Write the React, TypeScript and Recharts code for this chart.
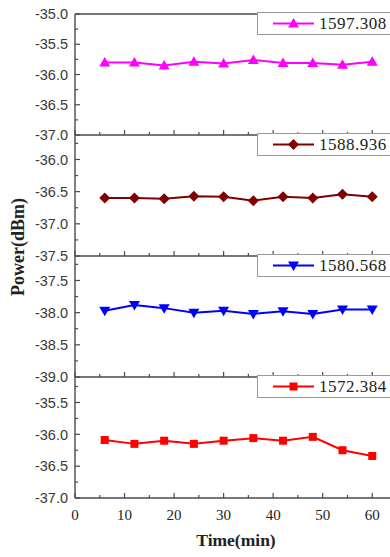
import { LineChart, Line, XAxis, YAxis, Legend, ReferenceLine } from 'recharts';

// sampling times (min)
const times = [6, 12, 18, 24, 30, 36, 42, 48, 54, 60];

// power readings (dBm) per wavelength
const p1597 = [-35.8, -35.8, -35.85, -35.79, -35.82, -35.76, -35.81, -35.81, -35.84, -35.79];
const p1588 = [-36.6, -36.6, -36.61, -36.57, -36.58, -36.64, -36.58, -36.6, -36.54, -36.58];
const p1580 = [-37.97, -37.88, -37.93, -38.0, -37.97, -38.02, -37.98, -38.02, -37.95, -37.95];
const p1572 = [-36.09, -36.15, -36.1, -36.15, -36.1, -36.06, -36.1, -36.04, -36.25, -36.34];

const timeMajor = [0, 10, 20, 30, 40, 50, 60];
const timeMinor = [5, 15, 25, 35, 45, 55];

const yMajor1 = [-35.0, -35.5, -36.0, -36.5, -37.0];
const yMinor1 = [-35.25, -35.75, -36.25, -36.75];
const yMajor2 = [-36.0, -36.5, -37.0, -37.5];
const yMinor2 = [-35.75, -36.25, -36.75, -37.25];
const yMajor3 = [-37.5, -38.0, -38.5, -39.0];
const yMinor3 = [-37.25, -37.75, -38.25, -38.75];
const yMajor4 = [-35.5, -36.0, -36.5, -37.0];
const yMinor4 = [-35.25, -35.75, -36.25, -36.75];

const AXIS = '#4a4a4a';
const PLOT_H = 121;

const panels = [
  { name: '1597.308', values: p1597, color: '#ff00ff', shape: 'up', domain: [-37, -35], major: yMajor1, minor: yMinor1, top: 14 },
  { name: '1588.936', values: p1588, color: '#800000', shape: 'diamond', domain: [-37.5, -35.62], major: yMajor2, minor: yMinor2, top: 135 },
  { name: '1580.568', values: p1580, color: '#0000ff', shape: 'down', domain: [-39, -37.12], major: yMajor3, minor: yMinor3, top: 256 },
  { name: '1572.384', values: p1572, color: '#ff0000', shape: 'square', domain: [-37, -35.1], major: yMajor4, minor: yMinor4, top: 377 },
];

function Marker({ cx, cy, shape, color }: any) {
  if (cx == null || cy == null) return null;
  if (shape === 'up')
    return <polygon points={`${cx},${cy - 5.5} ${cx - 5.5},${cy + 4} ${cx + 5.5},${cy + 4}`} fill={color} />;
  if (shape === 'down')
    return <polygon points={`${cx},${cy + 5.5} ${cx - 5.5},${cy - 4} ${cx + 5.5},${cy - 4}`} fill={color} />;
  if (shape === 'diamond')
    return <polygon points={`${cx},${cy - 5.5} ${cx + 5.5},${cy} ${cx},${cy + 5.5} ${cx - 5.5},${cy}`} fill={color} />;
  return <rect x={cx - 4} y={cy - 4} width={8} height={8} fill={color} />;
}

const XTick = ({ x, y, payload, showLabel }: any) => {
  const major = timeMajor.includes(payload.value);
  return (
    <g>
      <line x1={x} x2={x} y1={y} y2={y - (major ? 5 : 3)} stroke={AXIS} strokeWidth={1.2} />
      {showLabel && major && (
        <text x={x} y={y + 22} textAnchor="middle" fontFamily="'Liberation Serif', serif" fontSize={15} fill="#222">
          {payload.value}
        </text>
      )}
    </g>
  );
};

const YTick = ({ x, y, payload, major }: any) => {
  const isMajor = major.includes(payload.value);
  return (
    <g>
      <line x1={x} x2={x + (isMajor ? 5 : 3)} y1={y} y2={y} stroke={AXIS} strokeWidth={1.2} />
      {isMajor && (
        <text x={x - 7} y={y} dy="0.36em" textAnchor="end" fontFamily="'Liberation Sans', Arial, sans-serif" fontSize={14.5} fill="#3a3a3a">
          {payload.value.toFixed(1)}
        </text>
      )}
    </g>
  );
};

const LegendBox = ({ payload, shape }: any) => {
  const item = payload && payload[0];
  if (!item) return null;
  return (
    <div style={{ width: 150, height: 21, border: '1px solid #9a9a9a', background: '#fff', display: 'flex', alignItems: 'center', boxSizing: 'content-box' }}>
      <svg width={60} height={21} style={{ flex: 'none' }}>
        <line x1={15} x2={56} y1={10.5} y2={10.5} stroke={item.color} strokeWidth={2} />
        <Marker cx={35.5} cy={10.5} shape={shape} color={item.color} />
      </svg>
      <span style={{ fontFamily: "'Liberation Serif', serif", fontSize: 17, letterSpacing: 0.5, color: '#222', marginLeft: 1 }}>
        {item.value}
      </span>
    </div>
  );
};

export default function App() {
  return (
    <div style={{ position: 'absolute', left: 0, top: 0, width: 390, height: 557, overflow: 'hidden', background: '#fff' }}>
      {panels.map((p, idx) => {
        const last = idx === panels.length - 1;
        const data = times.map((t, i) => ({ t, v: p.values[i] }));
        const chartH = 10 + PLOT_H + (last ? 60 : 10);
        return (
          <div key={p.name} style={{ position: 'absolute', left: 0, top: p.top - 10 }}>
            <LineChart width={397} height={chartH} data={data} margin={{ top: 10, right: 0, bottom: last ? 0 : 9, left: 0 }}>
              <XAxis
                dataKey="t"
                type="number"
                domain={[0, 65]}
                allowDataOverflow
                ticks={[...timeMajor, ...timeMinor]}
                interval={0}
                height={last ? 60 : 1}
                tickSize={0}
                tickMargin={0}
                tickLine={false}
                axisLine={{ stroke: AXIS, strokeWidth: 1.4 }}
                tick={(props: any) => <XTick {...props} showLabel={last} />}
                label={
                  last
                    ? {
                        value: 'Time(min)',
                        position: 'insideBottom',
                        offset: 12,
                        style: { fontFamily: "'Liberation Serif', serif", fontWeight: 'bold', fontSize: 17.5, fill: '#222' },
                      }
                    : undefined
                }
              />
              <YAxis
                type="number"
                domain={p.domain}
                allowDataOverflow
                ticks={[...p.major, ...p.minor]}
                interval={0}
                width={75}
                tickSize={0}
                tickMargin={0}
                tickLine={false}
                axisLine={{ stroke: AXIS, strokeWidth: 1.4 }}
                tick={(props: any) => <YTick {...props} major={p.major} />}
              />
              {idx === 0 && <ReferenceLine y={-35} stroke={AXIS} strokeWidth={1.4} />}
              <Legend
                layout="horizontal"
                verticalAlign="middle"
                align="center"
                wrapperStyle={{ top: 8, left: 257, width: 150, height: 23 }}
                content={(props: any) => <LegendBox {...props} shape={p.shape} />}
              />
              <Line
                type="linear"
                dataKey="v"
                name={p.name}
                stroke={p.color}
                strokeWidth={2}
                dot={(d: any) => <Marker key={`m${d.index}`} cx={d.cx} cy={d.cy} shape={p.shape} color={p.color} />}
                activeDot={false}
                isAnimationActive={false}
              />
            </LineChart>
          </div>
        );
      })}
      <svg width={40} height={557} style={{ position: 'absolute', left: 0, top: 0 }}>
        <text
          x={24}
          y={247}
          transform="rotate(-90, 24, 247)"
          textAnchor="middle"
          fontFamily="'Liberation Serif', serif"
          fontWeight="bold"
          fontSize={18}
          fill="#222"
        >
          Power(dBm)
        </text>
      </svg>
    </div>
  );
}
